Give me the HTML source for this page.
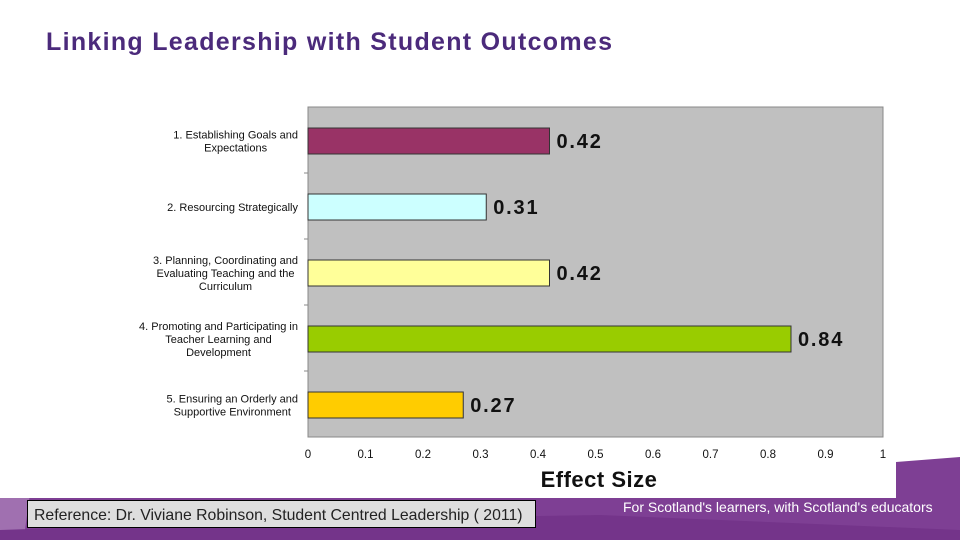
<!DOCTYPE html>
<html><head><meta charset="utf-8"><style>
body{margin:0;width:960px;height:540px;overflow:hidden;background:#fff;font-family:"Liberation Sans",sans-serif;position:relative}
</style></head><body>
<svg width="960" height="540" style="position:absolute;left:0;top:0">
<polygon points="0,488 30,493 30,498 896,498 896,462 960,457 960,540 0,540" fill="#7e3f94"/>
<polygon points="0,488 30,493 25,530 0,535" fill="#a070b0"/>
<polygon points="0,530 300,520 600,515 960,530 960,540 0,540" fill="#74348a"/>
</svg>
<svg id="chart" width="960" height="540" style="position:absolute;left:0;top:0"></svg>
<div style="position:absolute;left:46px;top:28px;font-size:25px;font-weight:bold;color:#4b2a7b;letter-spacing:1.3px;white-space:nowrap">Linking Leadership with Student Outcomes</div>
<div style="position:absolute;left:27px;top:500px;width:509px;height:28px;background:#dedede;border:1px solid #000;font-size:15.8px;line-height:30px;color:#222;padding-left:6px;box-sizing:border-box;white-space:nowrap;overflow:hidden">Reference: Dr. Viviane Robinson, Student Centred Leadership ( 2011)</div>
<div style="position:absolute;left:623px;top:499px;font-size:14px;color:#fff;white-space:nowrap">For Scotland's learners, with Scotland's educators</div>
<script>
const categories=[["1. Establishing Goals and","Expectations"],["2. Resourcing Strategically"],["3. Planning, Coordinating and","Evaluating Teaching and the","Curriculum"],["4. Promoting and Participating in","Teacher Learning and","Development"],["5. Ensuring an Orderly and","Supportive Environment"]];
const values=[0.42,0.31,0.42,0.84,0.27];
const valueLabels=["0.42","0.31","0.42","0.84","0.27"];
const colors=["#993366","#ccffff","#ffff99","#99cc00","#ffcc00"];
const ticks=[0,0.1,0.2,0.3,0.4,0.5,0.6,0.7,0.8,0.9,1];
const tickLabels=["0","0.1","0.2","0.3","0.4","0.5","0.6","0.7","0.8","0.9","1"];
const svg=document.getElementById('chart');const NS='http://www.w3.org/2000/svg';
const X0=308,X1=883,Y0=107,Y1=437;
const x=v=>X0+(X1-X0)*v;const band=(Y1-Y0)/categories.length;const y=i=>Y0+band*i;
function mk(t,a,p){const e=document.createElementNS(NS,t);for(const k in a)e.setAttribute(k,a[k]);(p||svg).appendChild(e);return e;}
const bg=mk('rect',{x:0,y:0,width:896,height:498,fill:'#fff'});


const plot=mk('rect',{x:X0,y:Y0,width:X1-X0,height:Y1-Y0,fill:'#c0c0c0',stroke:'#888','stroke-width':1});


categories.forEach((c,i)=>{
 const bh=26,by=y(i)+band/2-bh/2+1;
 const r=mk('rect',{x:X0,y:by,width:x(values[i])-X0,height:bh,fill:colors[i],stroke:'#333','stroke-width':1});
 
 
 const t=mk('text',{x:x(values[i])+7,y:by+bh/2+7,'font-size':20,'font-weight':'bold',fill:'#111','letter-spacing':1.8});t.textContent=valueLabels[i];
 
 
 const n=c.length,cy=y(i)+band/2+1;
 const els=c.map((l,j)=>{const tt=mk('text',{x:0,y:cy+(j-(n-1)/2)*13+4,'font-size':11,'text-anchor':'middle',fill:'#111'});tt.textContent=l;
  
  return tt;});
 const mw=Math.max(...els.map(e=>e.getComputedTextLength()));
 els.forEach(e=>e.setAttribute('x',298-mw/2));
 if(i>0){const tk=mk('line',{x1:X0-4,x2:X0,y1:y(i),y2:y(i),stroke:'#888'});}
});
ticks.forEach((v,i)=>{const t=mk('text',{x:x(v),y:458,'font-size':11.5,'text-anchor':'middle',fill:'#111'});t.textContent=tickLabels[i];
 
 });
const ax=mk('text',{x:599,y:487,'font-size':22,'font-weight':'bold','text-anchor':'middle',fill:'#111','letter-spacing':0.5});ax.textContent='Effect Size';


</script>
</body></html>
